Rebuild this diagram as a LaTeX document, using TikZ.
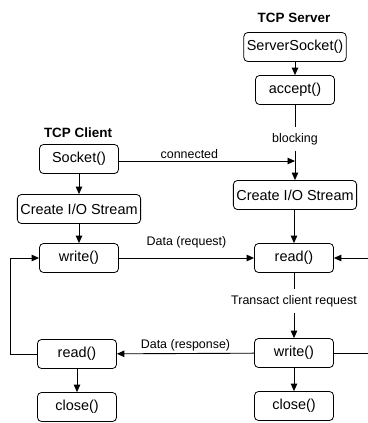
\documentclass[tikz,border=0pt]{standalone}
\usepackage{fontspec}
\setmainfont{Liberation Sans}
\usetikzlibrary{arrows.meta}

\begin{document}
\begin{tikzpicture}[
    x=1bp, y=-1bp,
    >={Triangle[length=7.5bp,width=6.5bp]},
    stepbox/.style={rectangle, rounded corners=4bp, draw=black, line width=0.8bp,
        minimum width=79bp, minimum height=29bp, inner xsep=3bp,
        font=\fontsize{14.5}{16}\selectfont},
    title/.style={font=\fontsize{13.5}{15}\selectfont\bfseries},
    note/.style={font=\fontsize{12.5}{14}\selectfont, inner sep=2bp},
    flow/.style={line width=0.9bp}
]
    \useasboundingbox (0,0) rectangle (368,423);
    % client side
    \node[title] (ctitle) at (78,133) {TCP Client};
    \node[stepbox] (socket) at (79,159) {Socket()};
    \node[stepbox] (cstream) at (79,209) {Create I/O Stream};
    \node[stepbox] (cwrite) at (79,258) {write()};
    \node[stepbox] (cread) at (77,354) {read()};
    \node[stepbox] (cclose) at (77,407) {close()};
    % server side
    \node[title] (stitle) at (294,18) {TCP Server};
    \node[stepbox] (ssocket) at (295,47) {ServerSocket()};
    \node[stepbox] (accept) at (295,90) {accept()};
    \node[note, outer sep=4bp] (blocking) at (295,139) {blocking};
    \node[stepbox] (sstream) at (295,195) {Create I/O Stream};
    \node[stepbox] (sread) at (294,258) {read()};
    \node[note, outer sep=4bp] (transact) at (294,301) {Transact client request};
    \node[stepbox] (swrite) at (294,353) {write()};
    \node[stepbox] (sclose) at (294,406) {close()};
    \coordinate (meet) at (sstream.north |- 0,161);

    \draw[flow, ->] (socket) -- (cstream);
    \draw[flow, ->] (cstream) -- (cwrite);
    \draw[flow, ->] (cread) -- (cclose);
    \draw[flow, ->] (cread.west) -- ++(-27,0) |- (cwrite);

    \draw[flow, ->] (ssocket) -- (accept);
    \draw[flow] (accept) -- (blocking);
    \draw[flow, ->] (blocking) -- (sstream);
    \draw[flow, ->] (sstream.south -| sread) -- (sread);
    \draw[flow] (sread) -- (transact);
    \draw[flow, ->] (transact) -- (swrite);
    \draw[flow, ->] (swrite) -- (sclose);
    \draw[flow, ->] (swrite.east) -- ++(42,0) |- (sread);

    \draw[flow, ->] (socket.east |- meet) -- node[note, above, pos=0.4] {connected} (meet);
    \draw[flow, ->] (cwrite) -- node[note, above, yshift=7bp] {Data (request)} (sread);
    \draw[flow, ->] (swrite) -- node[note, above] {Data (response)} (cread);
\end{tikzpicture}
\end{document}
